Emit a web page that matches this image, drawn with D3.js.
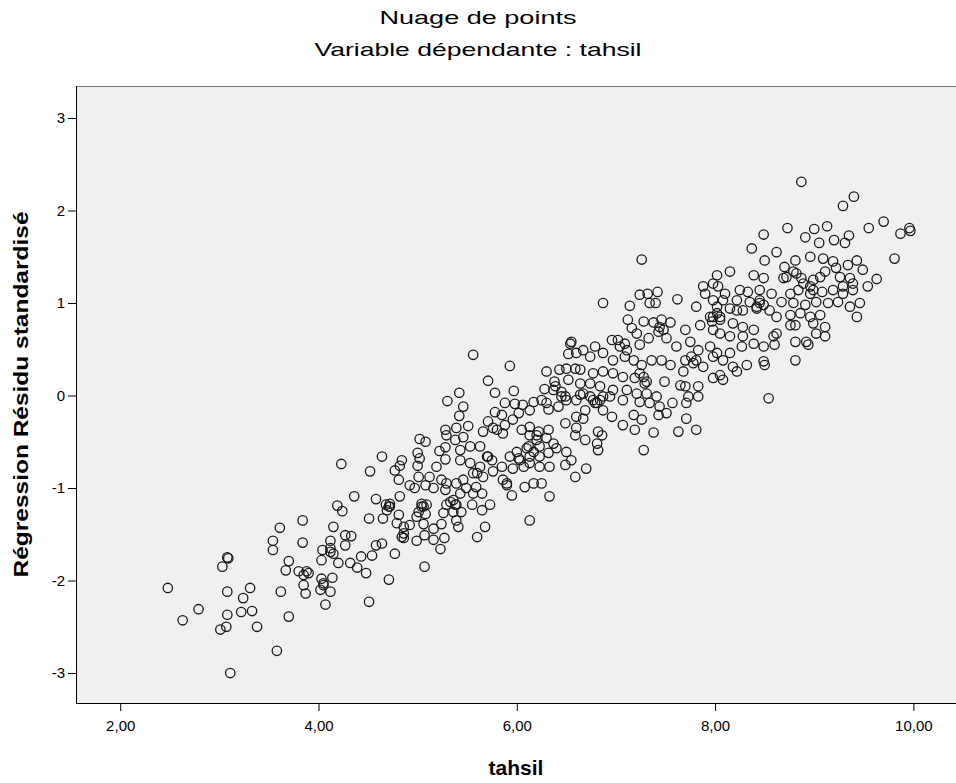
<!DOCTYPE html>
<html lang="fr">
<head>
<meta charset="utf-8" />
<title>Nuage de points</title>
<script src="https://cdn.jsdelivr.net/npm/d3@7/dist/d3.min.js"></script>
<style>
  body { margin: 0; background: #fff; }
  svg { display: block; font-family: "Liberation Sans", Arial, sans-serif; }
</style>
</head>
<body>
<script>
// tahsil (x) and standardised residual (y), same order
var tahsil = [
  2.48, 2.63, 2.79, 3.08, 3.09, 3.03, 3.08, 3.31, 3.24, 3.08,
  3.22, 3.33, 3.07, 3.01, 3.38, 3.11, 3.58, 3.70, 3.62, 3.61,
  3.54, 3.54, 3.70, 3.67, 3.84, 3.84, 3.80, 3.85, 3.85, 3.87,
  3.88, 4.07, 4.51,
  5.30, 5.28, 5.29, 5.02, 5.08, 5.22, 5.28, 4.64, 5.00, 5.02,
  4.84, 4.82, 4.77, 5.00, 4.23, 4.52, 5.19, 5.28, 4.81, 4.92,
  5.01, 5.12, 5.24, 5.08, 5.16, 5.28, 4.97, 4.82, 4.58, 4.36,
  4.68, 4.72, 4.69, 5.04, 5.09, 5.01, 5.08, 4.99, 4.81, 4.65,
  4.51, 5.26, 5.29, 4.19, 4.24, 4.79, 4.86, 4.92, 5.06, 5.16,
  5.24, 4.15, 4.86, 4.86, 4.99, 5.07, 5.16, 5.27, 5.23, 4.27,
  4.33, 4.27, 4.12, 4.64, 4.58, 4.77, 4.04, 4.12, 4.15, 4.03,
  4.43, 4.54, 4.20, 4.32, 4.39, 4.48, 5.07, 3.90, 4.03, 4.14,
  4.05, 4.12, 4.02, 4.71,
  5.56, 5.93, 5.71, 5.78, 5.97, 5.42, 5.46, 5.42, 6.54, 6.55,
  6.52, 6.60, 6.30, 6.43, 6.50, 6.59, 6.52, 6.38, 6.37, 6.28,
  6.45, 6.50, 6.60, 5.88, 5.98, 6.06, 6.17, 6.25, 6.32, 6.42,
  5.78, 5.85, 6.02, 6.13, 6.49, 6.60, 6.59, 6.60, 5.39, 5.51,
  5.71, 5.66, 5.76, 5.88, 5.86, 5.96, 6.05, 6.13, 6.22, 6.32,
  6.13, 6.20, 6.30, 6.37, 6.23, 6.10, 6.00, 5.93, 6.03, 6.13,
  6.23, 6.32, 6.40, 6.50, 6.55, 6.49, 6.33, 6.23, 6.13, 6.07,
  5.96, 5.85, 5.75, 5.71, 5.63, 5.53, 5.43, 5.38, 5.43, 5.53,
  5.63, 5.56, 5.66, 5.76, 5.90, 5.95, 6.08, 6.17, 6.25, 6.33,
  6.59, 5.29, 5.39, 5.46, 5.49, 5.59, 5.65, 5.56, 5.43, 5.33,
  5.39, 5.36, 5.44, 5.55, 5.65, 5.73, 5.39, 5.41, 5.68, 5.60,
  6.13,
  7.26, 6.87, 7.14, 7.24, 7.32, 7.42, 7.34, 7.40, 7.62, 7.81,
  7.88, 7.90, 7.98, 8.02, 7.98, 7.12, 7.16, 7.28, 7.38, 7.46,
  7.55, 7.70, 7.85, 7.95, 7.98, 7.21, 7.33, 7.43, 7.51, 6.96,
  7.02, 7.09, 7.24, 7.61, 7.75, 7.83, 7.95, 8.02, 6.79, 6.67,
  6.74, 6.87, 6.97, 7.09, 7.18, 7.26, 7.36, 7.46, 7.55, 7.70,
  7.78, 7.88, 7.98, 7.68, 7.49, 7.65, 7.70, 7.83, 7.83, 7.73,
  7.71, 7.71, 7.81, 7.63, 7.57, 7.41, 7.29, 7.19, 7.07, 6.97,
  6.87, 6.77, 6.64, 6.64, 6.74, 6.84, 6.97, 7.11, 7.21, 7.31,
  6.64, 6.74, 6.84, 6.94, 7.07, 7.24, 7.34, 7.44, 7.51, 7.43,
  7.26, 7.18, 7.07, 7.19, 7.38, 7.28, 6.96, 6.87, 6.79, 6.69,
  6.67, 6.69, 6.82, 6.86, 6.81, 6.82, 6.70,
  9.40, 9.29, 8.73, 8.49, 8.37, 8.91, 9.00, 9.13, 9.20, 9.31,
  9.35, 9.05, 8.62, 8.50, 8.81, 8.70, 8.96, 9.09, 9.19, 9.34,
  9.43, 8.15, 8.39, 8.49, 8.03, 8.10, 8.25, 8.33, 8.45, 8.57,
  8.69, 8.79, 8.87, 8.99, 9.11, 9.26, 9.36, 9.39, 9.29, 9.19,
  9.08, 8.96, 8.84, 8.76, 8.67, 8.79, 8.91, 9.02, 9.14, 9.24,
  9.36, 9.43, 8.45, 8.35, 8.22, 8.08, 8.02, 8.15, 8.28, 8.42,
  8.55, 8.62, 8.76, 8.86, 8.96, 9.06, 8.99, 9.11, 9.11, 9.02,
  8.92, 8.94, 8.81, 8.81, 8.76, 8.81, 8.62, 8.60, 8.49, 8.50,
  8.54, 8.39, 8.28, 8.18, 8.05, 8.05, 8.15, 8.28, 8.39, 8.49,
  8.59, 8.27, 8.15, 7.98, 8.08, 8.18, 8.32, 8.22, 8.05, 8.08,
  9.70, 9.55, 9.96, 9.97, 9.87, 9.81, 9.49, 9.63, 9.54, 9.39,
  9.46, 8.87,
  // overlapping circles in the dark clumps
  6.39, 6.45, 5.90, 5.86, 5.70, 6.12, 6.17, 6.20, 6.02, 5.60,
  5.36, 5.38, 6.49, 6.30, 5.80, 5.46,
  4.71, 4.72, 5.06, 5.04, 4.84, 4.12, 4.05,
  7.28, 7.24, 7.31, 7.98, 7.97, 7.48, 7.44, 6.77, 6.81, 6.87,
  7.81, 7.76, 7.11, 7.04, 6.67,
  8.45, 8.49, 8.42, 8.96, 8.99, 8.89, 8.05, 8.02, 8.82, 8.72,
  9.06, 9.29, 9.22, 8.22
];
var residu = [
  -2.08, -2.43, -2.31, -1.75, -1.76, -1.85, -2.12, -2.08, -2.19, -2.37,
  -2.34, -2.33, -2.50, -2.53, -2.50, -3.00, -2.76, -2.39, -2.12, -1.43,
  -1.57, -1.67, -1.79, -1.89, -1.35, -1.59, -1.90, -1.94, -2.05, -2.14,
  -1.90, -2.26, -2.23,
  -0.06, -0.37, -0.43, -0.47, -0.50, -0.60, -0.56, -0.66, -0.62, -0.68,
  -0.70, -0.76, -0.81, -0.76, -0.74, -0.82, -0.77, -0.69, -0.91, -0.97,
  -0.88, -0.88, -0.91, -0.97, -1.00, -1.02, -1.00, -1.09, -1.12, -1.09,
  -1.18, -1.20, -1.24, -1.20, -1.18, -1.26, -1.28, -1.31, -1.29, -1.33,
  -1.33, -1.27, -1.18, -1.19, -1.25, -1.38, -1.42, -1.40, -1.39, -1.44,
  -1.39, -1.42, -1.49, -1.54, -1.57, -1.51, -1.56, -1.54, -1.66, -1.51,
  -1.52, -1.62, -1.57, -1.60, -1.62, -1.71, -1.67, -1.69, -1.71, -1.78,
  -1.74, -1.73, -1.81, -1.81, -1.86, -1.92, -1.85, -1.92, -1.98, -1.97,
  -2.03, -2.12, -2.10, -1.99,
  0.44, 0.32, 0.16, 0.03, 0.05, 0.03, -0.12, -0.22, 0.56, 0.58,
  0.45, 0.46, 0.26, 0.28, 0.29, 0.29, 0.17, 0.15, 0.06, 0.07,
  -0.01, -0.05, -0.05, -0.08, -0.09, -0.10, -0.07, -0.05, -0.15, -0.12,
  -0.18, -0.21, -0.19, -0.16, -0.30, -0.23, -0.43, -0.35, -0.35, -0.33,
  -0.28, -0.39, -0.35, -0.32, -0.41, -0.26, -0.37, -0.34, -0.39, -0.37,
  -0.43, -0.48, -0.46, -0.52, -0.55, -0.57, -0.61, -0.66, -0.70, -0.66,
  -0.66, -0.62, -0.57, -0.61, -0.70, -0.75, -0.77, -0.77, -0.73, -0.77,
  -0.79, -0.77, -0.70, -0.66, -0.55, -0.55, -0.59, -0.48, -0.70, -0.73,
  -0.77, -0.84, -0.88, -0.82, -0.95, -1.08, -0.99, -0.95, -0.95, -1.09,
  -0.88, -0.95, -0.95, -0.91, -1.00, -0.99, -1.06, -1.06, -1.06, -1.15,
  -1.18, -1.26, -1.26, -1.18, -1.24, -1.18, -1.35, -1.42, -1.42, -1.53,
  -1.35,
  1.47, 1.00, 0.97, 1.09, 1.10, 1.12, 1.00, 1.00, 1.04, 0.96,
  1.18, 1.10, 1.21, 1.30, 1.03, 0.82, 0.73, 0.80, 0.79, 0.82,
  0.79, 0.71, 0.76, 0.85, 0.71, 0.67, 0.62, 0.69, 0.62, 0.60,
  0.60, 0.56, 0.55, 0.53, 0.58, 0.49, 0.53, 0.46, 0.53, 0.49,
  0.42, 0.46, 0.38, 0.42, 0.38, 0.33, 0.38, 0.38, 0.33, 0.38,
  0.35, 0.31, 0.19, 0.26, 0.15, 0.11, 0.10, 0.10, -0.01, -0.01,
  -0.08, -0.25, -0.37, -0.39, -0.08, -0.01, 0.13, 0.19, 0.20, 0.24,
  0.26, 0.24, 0.28, 0.13, 0.13, 0.10, 0.06, 0.06, 0.02, 0.02,
  0.01, -0.01, -0.05, -0.01, -0.05, -0.07, -0.08, -0.12, -0.19, -0.21,
  -0.26, -0.21, -0.32, -0.37, -0.40, -0.59, -0.23, -0.16, -0.08, -0.16,
  -0.25, -0.48, -0.39, -0.43, -0.52, -0.59, -0.79,
  2.15, 2.05, 1.81, 1.74, 1.59, 1.71, 1.80, 1.83, 1.68, 1.65,
  1.73, 1.65, 1.55, 1.46, 1.46, 1.39, 1.50, 1.48, 1.45, 1.41,
  1.46, 1.34, 1.30, 1.27, 1.18, 1.10, 1.14, 1.12, 1.14, 1.10,
  1.27, 1.34, 1.27, 1.25, 1.34, 1.28, 1.27, 1.14, 1.10, 1.14,
  1.12, 1.10, 1.14, 1.10, 1.01, 1.00, 0.98, 1.01, 1.00, 1.01,
  0.96, 0.85, 1.03, 1.01, 1.03, 1.03, 0.96, 0.94, 0.92, 0.94,
  0.92, 0.85, 0.87, 0.89, 0.85, 0.87, 0.78, 0.74, 0.64, 0.67,
  0.58, 0.55, 0.58, 0.38, 0.76, 0.76, 0.67, 0.55, 0.37, 0.33,
  -0.03, 0.71, 0.74, 0.78, 0.82, 0.67, 0.64, 0.64, 0.56, 0.53,
  0.64, 0.53, 0.46, 0.42, 0.38, 0.31, 0.33, 0.26, 0.22, 0.17,
  1.88, 1.81, 1.81, 1.78, 1.75, 1.48, 1.36, 1.26, 1.18, 1.21,
  1.00, 2.31,
  0.10, 0.04, -0.97, -0.91, -0.66, -0.55, -0.61, -0.43, -0.68, -0.84,
  -1.13, -1.18, -0.01, -0.08, -0.37, -0.45,
  -1.20, -1.17, -1.20, -1.17, -1.53, -1.65, -2.05,
  0.20, 0.24, 0.15, 0.85, 0.80, 0.71, 0.74, -0.05, -0.08, -0.01,
  0.38, 0.42, 0.49, 0.53, 0.02,
  1.00, 0.98, 0.96, 1.18, 1.14, 1.21, 0.85, 0.89, 1.32, 1.28,
  1.28, 1.18, 1.38, 0.92
];

var yTicks = [-3, -2, -1, 0, 1, 2, 3];
var xTicks = [2, 4, 6, 8, 10];

var w = 956;
var h = 783;
var plotLeft = 76, plotRight = 956, plotTop = 86, plotBottom = 703;

var data = tahsil.map(function(d, i) {
    return { x: d, y: residu[i] };
});

var svg = d3.select("body")
    .append("svg")
    .attr("width", w)
    .attr("height", h);

var xScale = d3.scaleLinear()
    .domain([1.554, 10.43])
    .range([plotLeft, plotRight]);

var yScale = d3.scaleLinear()
    .domain([-3.324, 3.346])
    .range([plotBottom, plotTop]);

// plot background
svg.append("rect")
    .attr("x", plotLeft)
    .attr("y", plotTop)
    .attr("width", plotRight - plotLeft)
    .attr("height", plotBottom - plotTop)
    .attr("fill", "#f0f0f0");

svg.append("line")
    .attr("x1", plotLeft).attr("x2", plotRight)
    .attr("y1", plotTop + 0.5).attr("y2", plotTop + 0.5)
    .attr("stroke", "#7a7a7a");

// points
svg.append("g")
    .selectAll("circle")
    .data(data)
    .enter()
    .append("circle")
    .attr("cx", function(d) { return xScale(d.x); })
    .attr("cy", function(d) { return yScale(d.y); })
    .attr("r", 4.7)
    .attr("fill", "none")
    .attr("stroke", "#1a1a1a")
    .attr("stroke-width", 1.3);

// axes
var yAxis = d3.axisLeft(yScale)
    .tickValues(yTicks)
    .tickSize(8)
    .tickFormat(function(d) { return String(d); });

var xAxis = d3.axisBottom(xScale)
    .tickValues(xTicks)
    .tickSize(8)
    .tickFormat(function(d) { return d3.format(".2f")(d).replace(".", ","); });

var gy = svg.append("g")
    .attr("transform", "translate(" + plotLeft + ",0)")
    .call(yAxis);
gy.select(".domain").attr("d", "M0.5," + plotTop + "V" + (plotBottom + 0.5));

var gx = svg.append("g")
    .attr("transform", "translate(0," + plotBottom + ")")
    .call(xAxis);
gx.select(".domain").attr("d", "M" + plotLeft + ",0.5H" + plotRight);

svg.selectAll(".tick text")
    .attr("font-family", "Liberation Sans, Arial, sans-serif")
    .attr("font-size", "15px")
    .attr("fill", "#000");
svg.selectAll(".tick line, .domain").attr("stroke", "#000");
gx.selectAll(".tick text").attr("dy", "1.1em");

// titles
svg.append("text")
    .attr("x", w / 2)
    .attr("y", 24)
    .attr("text-anchor", "middle")
    .attr("font-size", "19px")
    .attr("textLength", 197)
    .attr("lengthAdjust", "spacingAndGlyphs")
    .text("Nuage de points");

svg.append("text")
    .attr("x", w / 2)
    .attr("y", 56)
    .attr("text-anchor", "middle")
    .attr("font-size", "19px")
    .attr("textLength", 327)
    .attr("lengthAdjust", "spacingAndGlyphs")
    .text("Variable dépendante : tahsil");

svg.append("text")
    .attr("x", (plotLeft + plotRight) / 2)
    .attr("y", 775)
    .attr("text-anchor", "middle")
    .attr("font-size", "21px")
    .attr("font-weight", "bold")
    .text("tahsil");

svg.append("text")
    .attr("transform", "translate(28," + (plotTop + plotBottom) / 2 + ") rotate(-90)")
    .attr("text-anchor", "middle")
    .attr("font-size", "21px")
    .attr("font-weight", "bold")
    .attr("textLength", 366)
    .attr("lengthAdjust", "spacingAndGlyphs")
    .text("Régression Résidu standardisé");
</script>
</body>
</html>
